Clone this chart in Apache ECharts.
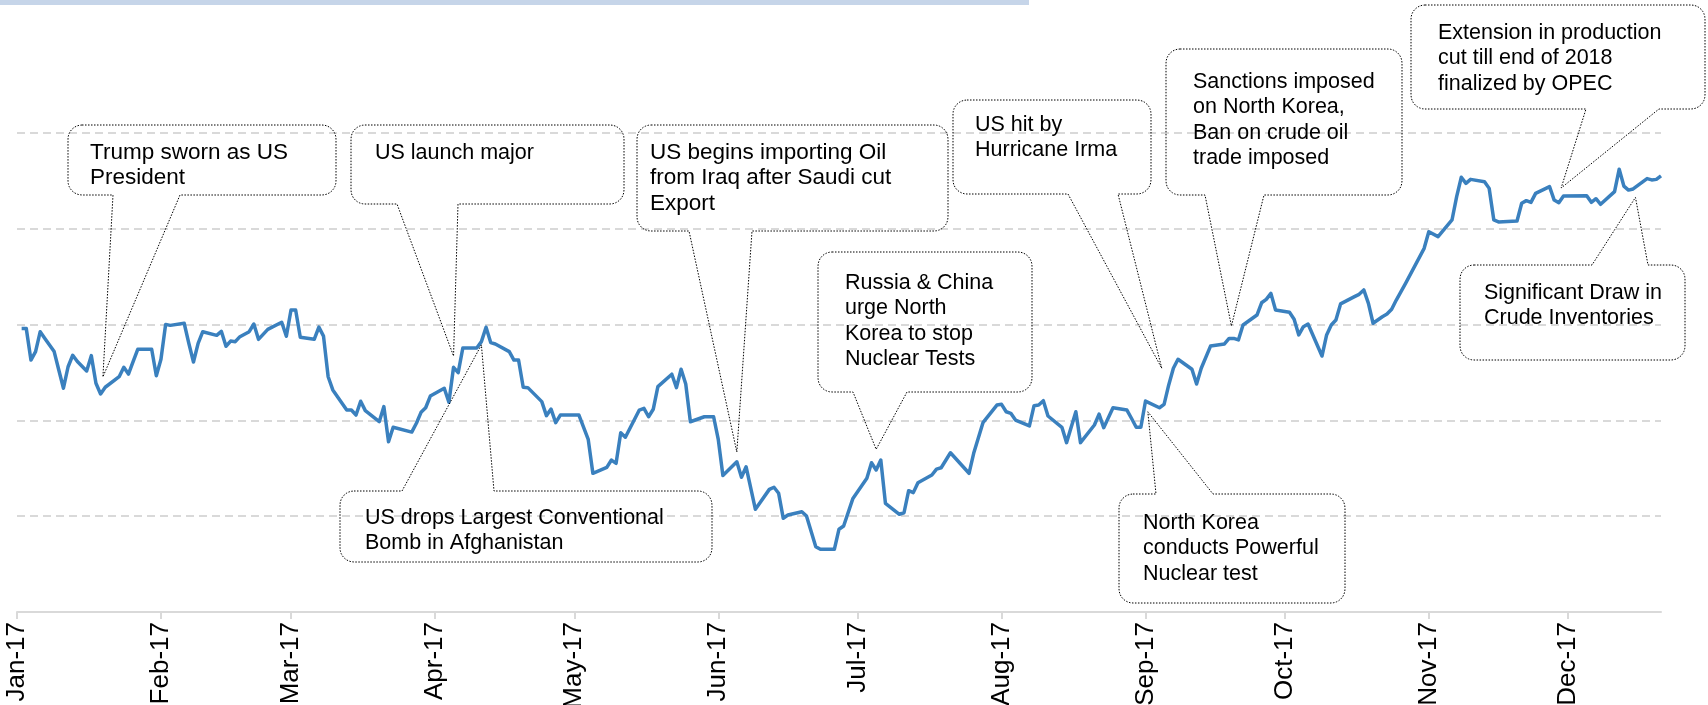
<!DOCTYPE html>
<html><head><meta charset="utf-8">
<script src="https://cdn.jsdelivr.net/npm/echarts@6/dist/echarts.min.js"></script>
<style>html,body{margin:0;padding:0;background:#fff}#c{width:1708px;height:705px}</style>
</head><body><div id="c"></div>
<script>
// ---------------- DATA ----------------
const dates = [
'2017-01-02','2017-01-03','2017-01-04','2017-01-05','2017-01-06','2017-01-07','2017-01-09','2017-01-10','2017-01-11','2017-01-12',
'2017-01-13','2017-01-14','2017-01-16','2017-01-17','2017-01-18','2017-01-19','2017-01-20','2017-01-23','2017-01-24','2017-01-25',
'2017-01-26','2017-01-27','2017-01-30','2017-01-31','2017-02-01','2017-02-02','2017-02-03','2017-02-06','2017-02-07','2017-02-08',
'2017-02-09','2017-02-10','2017-02-13','2017-02-14','2017-02-15','2017-02-16','2017-02-17','2017-02-18','2017-02-20','2017-02-21',
'2017-02-22','2017-02-24','2017-02-27','2017-02-28','2017-03-01','2017-03-02','2017-03-03','2017-03-06','2017-03-07','2017-03-08',
'2017-03-09','2017-03-10','2017-03-13','2017-03-14','2017-03-15','2017-03-16','2017-03-17','2017-03-20','2017-03-21','2017-03-22',
'2017-03-23','2017-03-27','2017-03-28','2017-03-29','2017-03-30','2017-03-31','2017-04-03','2017-04-04','2017-04-05','2017-04-06',
'2017-04-07','2017-04-10','2017-04-11','2017-04-12','2017-04-13','2017-04-14','2017-04-17','2017-04-18','2017-04-19','2017-04-20',
'2017-04-21','2017-04-24','2017-04-25','2017-04-26','2017-04-27','2017-04-28','2017-05-02','2017-05-04','2017-05-05','2017-05-08',
'2017-05-09','2017-05-10','2017-05-11','2017-05-12','2017-05-15','2017-05-16','2017-05-17','2017-05-18','2017-05-19','2017-05-22',
'2017-05-23','2017-05-24','2017-05-25','2017-05-26','2017-05-29','2017-05-31','2017-06-01','2017-06-02','2017-06-05','2017-06-06',
'2017-06-07','2017-06-09','2017-06-12','2017-06-13','2017-06-14','2017-06-15','2017-06-16','2017-06-19','2017-06-20','2017-06-22',
'2017-06-23','2017-06-26','2017-06-27','2017-06-28','2017-06-30','2017-07-03','2017-07-04','2017-07-05','2017-07-06','2017-07-07',
'2017-07-10','2017-07-11','2017-07-12','2017-07-13','2017-07-14','2017-07-17','2017-07-18','2017-07-19','2017-07-21','2017-07-25',
'2017-07-26','2017-07-28','2017-07-31','2017-08-01','2017-08-02','2017-08-03','2017-08-04','2017-08-07','2017-08-08','2017-08-09',
'2017-08-10','2017-08-11','2017-08-14','2017-08-15','2017-08-17','2017-08-18','2017-08-21','2017-08-22','2017-08-23','2017-08-25',
'2017-08-28','2017-08-29','2017-08-30','2017-08-31','2017-09-01','2017-09-04','2017-09-05','2017-09-06','2017-09-07','2017-09-08',
'2017-09-11','2017-09-12','2017-09-13','2017-09-15','2017-09-18','2017-09-19','2017-09-20','2017-09-21','2017-09-22','2017-09-25',
'2017-09-26','2017-09-27','2017-09-28','2017-09-29','2017-10-02','2017-10-03','2017-10-04','2017-10-05','2017-10-06','2017-10-09',
'2017-10-10','2017-10-11','2017-10-12','2017-10-13','2017-10-16','2017-10-17','2017-10-18','2017-10-19','2017-10-20','2017-10-22',
'2017-10-23','2017-10-24','2017-10-25','2017-10-27','2017-10-31','2017-11-01','2017-11-03','2017-11-06','2017-11-07','2017-11-08',
'2017-11-09','2017-11-10','2017-11-13','2017-11-14','2017-11-15','2017-11-16','2017-11-20','2017-11-21','2017-11-22','2017-11-23',
'2017-11-24','2017-11-27','2017-11-28','2017-11-29','2017-11-30','2017-12-05','2017-12-06','2017-12-07','2017-12-08','2017-12-11',
'2017-12-12','2017-12-13','2017-12-14','2017-12-15','2017-12-18','2017-12-19','2017-12-20','2017-12-21'
];
const prices = [
54.79,54.79,53.15,53.59,54.63,54.28,53.59,52.63,51.68,52.80,
53.40,53.07,52.58,53.38,51.94,51.38,51.73,52.28,52.77,52.42,
53.07,53.71,53.71,52.33,53.19,55.01,54.96,55.07,54.02,53.05,
54.02,54.63,54.44,54.65,53.87,54.14,54.11,54.37,54.63,55.03,
54.23,54.75,55.12,54.39,55.76,55.76,54.34,54.23,54.87,54.40,
52.28,51.59,50.54,50.54,50.28,51.00,50.51,49.93,50.72,48.89,
49.64,49.39,49.85,50.42,50.66,51.27,51.68,50.95,52.77,52.49,
53.78,53.78,54.11,54.86,54.06,53.99,53.59,53.15,53.15,51.73,
51.71,50.98,50.25,50.59,49.88,50.28,50.28,49.01,47.24,47.55,
47.93,47.76,49.36,49.12,50.54,50.63,50.19,50.58,51.76,52.41,
51.71,52.67,51.90,49.93,50.19,50.19,49.01,47.12,47.84,47.03,
47.58,45.36,46.40,46.51,46.20,44.89,45.06,45.23,45.01,43.41,
43.27,43.27,44.32,44.49,45.93,46.98,47.79,47.41,47.93,45.67,
45.10,45.18,46.33,46.23,46.75,47.15,47.46,47.53,48.31,47.24,
48.28,49.88,50.80,50.84,50.45,50.37,50.02,49.71,50.77,50.80,
51.03,50.23,49.64,48.84,50.45,48.84,49.76,50.33,49.62,50.66,
50.54,50.10,49.64,49.64,51.01,50.66,50.84,51.85,52.72,53.19,
52.67,51.90,52.72,53.88,53.99,54.28,54.28,54.20,54.98,55.50,
56.14,56.32,56.63,55.76,55.64,55.28,54.46,54.89,55.03,53.36,
54.46,54.98,55.24,56.08,56.46,56.58,56.81,56.11,55.07,55.41,
55.55,55.80,56.28,57.15,58.98,59.85,59.59,60.46,61.68,62.69,
62.37,62.58,62.46,62.11,60.46,60.36,60.41,61.33,61.47,61.38,
61.85,62.20,61.50,61.36,61.71,61.73,61.38,61.57,61.28,61.94,
63.11,62.23,62.02,62.08,62.62,62.55,62.58,62.76
];
const monthLabels = ['Jan-17','Feb-17','Mar-17','Apr-17','May-17','Jun-17','Jul-17','Aug-17','Sep-17','Oct-17','Nov-17','Dec-17'];
const monthStarts = ['2017-01-01','2017-02-01','2017-03-01','2017-04-01','2017-05-01','2017-06-01','2017-07-01','2017-08-01','2017-09-01','2017-10-01','2017-11-01','2017-12-01'];
const xMin = '2017-01-01';
const xMax = '2017-12-21';
const yMin = 40, yMax = 65, yStep = 5;

// annotation texts and the data point each callout points at
const noteTexts = [
  'Trump sworn as US\nPresident',
  'US launch major',
  'US drops Largest Conventional\nBomb in Afghanistan',
  'US begins importing Oil\nfrom Iraq after Saudi cut\nExport',
  'Russia & China\nurge North\nKorea to stop\nNuclear Tests',
  'US hit by\nHurricane Irma',
  'Sanctions imposed\non North Korea,\nBan on crude oil\ntrade imposed',
  'Extension in production\ncut till end of 2018\nfinalized by OPEC',
  'Significant Draw in\nCrude Inventories',
  'North Korea\nconducts Powerful\nNuclear test'
];
const noteTips = [
  ['2017-01-19 12:00', 52.27],
  ['2017-04-05 00:00', 53.36],
  ['2017-04-11 00:00', 53.94],
  ['2017-06-05 00:00', 48.35],
  ['2017-07-05 00:00', 48.49],
  ['2017-09-04 12:00', 52.72],
  ['2017-09-19 12:00', 54.93],
  ['2017-11-29 12:00', 62.13],
  ['2017-12-15 12:00', 61.64],
  ['2017-09-01 12:00', 50.45]
];

// ---------------- LAYOUT (pixels) ----------------
const noteLayout = [
  {box:[68,125,336,195],  txt:[90,140],   size:22.5, edge:'bottom', base:[113,180]},
  {box:[351,125,624,204], txt:[375,140],  size:21.5, edge:'bottom', base:[397,458]},
  {box:[340,491,712,562], txt:[365,505],  size:21.5, edge:'top',    base:[402,494]},
  {box:[637,125,948,231], txt:[650,140],  size:22.5, edge:'bottom', base:[689,752]},
  {box:[818,252,1032,392],txt:[845,270],  size:21.5, edge:'bottom', base:[853,907]},
  {box:[953,100,1151,194],txt:[975,112],  size:21.5, edge:'bottom', base:[1068,1118]},
  {box:[1166,49,1402,195],txt:[1193,69],  size:21.5, edge:'bottom', base:[1205,1264]},
  {box:[1411,5,1705,109], txt:[1438,20],  size:21.5, edge:'bottom', base:[1586,1659]},
  {box:[1460,265,1685,360],txt:[1484,280],size:21.5, edge:'top',    base:[1592,1648]},
  {box:[1119,494,1345,603],txt:[1143,510],size:21.5, edge:'top',    base:[1156,1213]}
];

const FONT = '"Liberation Sans", Arial, Helvetica, sans-serif';
function parseT(s) {
  const m = s.match(/^(\d{4})-(\d{2})-(\d{2})(?:[ T](\d{2}):(\d{2}))?/);
  return new Date(+m[1], +m[2] - 1, +m[3], m[4] ? +m[4] : 0, m[5] ? +m[5] : 0).getTime();
}
const monthTs = monthStarts.map(parseT);

const chart = echarts.init(document.getElementById('c'), null, {renderer:'canvas'});
chart.setOption({
  animation: false,
  backgroundColor: '#ffffff',
  grid: {left: 17, right: 47, top: 133, bottom: 93, containLabel: false, outerBoundsMode: 'none'},
  xAxis: {
    type: 'value',
    min: parseT(xMin), max: parseT(xMax),
    axisLine: {lineStyle: {color: '#d9d9d9', width: 2}},
    axisTick: {show: true, length: 7, customValues: monthTs, lineStyle: {color: '#d9d9d9', width: 2}},
    axisLabel: {
      customValues: monthTs, rotate: 90, margin: 10,
      fontSize: 26, fontFamily: FONT, color: '#000',
      formatter: function (v) { const i = monthTs.indexOf(+v); return i >= 0 ? monthLabels[i] : ''; }
    },
    splitLine: {show: false}
  },
  yAxis: {
    type: 'value', min: yMin, max: yMax, interval: yStep,
    axisLine: {show: false}, axisTick: {show: false}, axisLabel: {show: false},
    splitLine: {lineStyle: {color: '#d9d9d9', width: 2, type: [8, 5]}}
  },
  series: [{
    type: 'line',
    data: dates.map((d, i) => [parseT(d), prices[i]]),
    symbol: 'none', showSymbol: false,
    lineStyle: {color: '#3a80be', width: 3.5, join: 'round'},
    z: 3
  }]
});

function calloutPoints(L, tip) {
  const [x0, y0, x1, y1] = L.box, r = 14, pts = [];
  const arc = (cx, cy, a0, a1) => {
    for (let k = 0; k <= 8; k++) {
      const a = (a0 + (a1 - a0) * k / 8) * Math.PI / 180;
      pts.push([cx + r * Math.cos(a), cy + r * Math.sin(a)]);
    }
  };
  pts.push([x0 + r, y0]);
  if (L.edge === 'top') { pts.push([L.base[0], y0], tip, [L.base[1], y0]); }
  pts.push([x1 - r, y0]);
  arc(x1 - r, y0 + r, -90, 0);
  arc(x1 - r, y1 - r, 0, 90);
  if (L.edge === 'bottom') { pts.push([L.base[1], y1], tip, [L.base[0], y1]); }
  arc(x0 + r, y1 - r, 90, 180);
  arc(x0 + r, y0 + r, 180, 270);
  return pts;
}

const graphics = [{
  type: 'rect', shape: {x: 0, y: 0, width: 1029, height: 5}, style: {fill: '#c6d5e9'}, z: 10
}];
noteTexts.forEach((t, i) => {
  const tip = chart.convertToPixel({gridIndex: 0}, [parseT(noteTips[i][0]), noteTips[i][1]]);
  const L = noteLayout[i];
  graphics.push({
    type: 'polygon', shape: {points: calloutPoints(L, tip)},
    style: {fill: null, stroke: '#000', lineWidth: 1, lineDash: [1.5, 1.5]}, z: 10
  });
  graphics.push({
    type: 'text', x: L.txt[0], y: L.txt[1],
    style: {text: t, font: L.size + 'px ' + FONT, fill: '#000', lineHeight: 25.5, verticalAlign: 'top', align: 'left'},
    z: 11
  });
});
chart.setOption({graphic: graphics});
</script>
</body></html>
